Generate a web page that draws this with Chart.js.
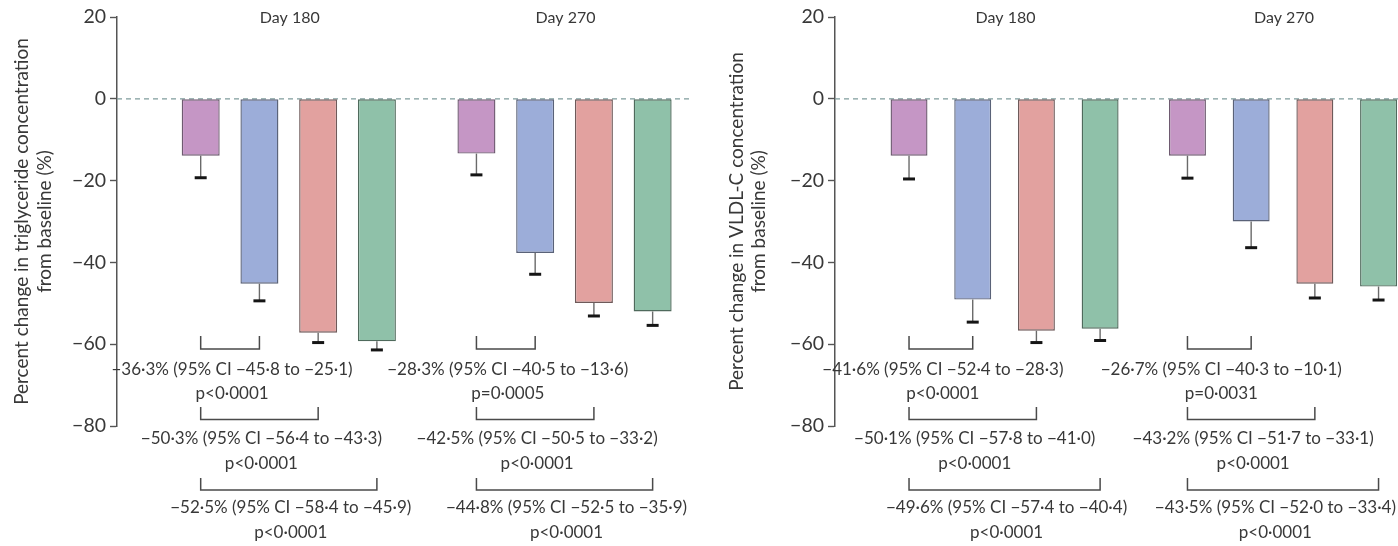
<!DOCTYPE html>
<html>
<head>
<meta charset="utf-8">
<script src="https://cdn.jsdelivr.net/npm/chart.js@4/dist/chart.umd.min.js"></script>
<style>
  html, body { margin: 0; padding: 0; background: #fff; }
  #wrap { position: relative; width: 1398px; height: 546px; overflow: hidden; }
  canvas { position: absolute; top: 0; }
  #tg { left: 0; }
  #vldl { left: 700px; }
</style>
</head>
<body>
<div id="wrap">
  <canvas id="tg" width="700" height="546"></canvas>
  <canvas id="vldl" width="698" height="546"></canvas>
</div>
<script>
// Visits and treatment arms
const categories = ['Day 180', 'Day 270'];
const arms = ['Placebo', 'Dose A', 'Dose B', 'Dose C'];
const yTickValues = [20, 0, -20, -40, -60, -80];

// Triglyceride: mean percent change and lower end of the error bar, per arm
const tgDay180 = [-13.9, -45.2, -57.2, -59.3];
const tgDay270 = [-13.4, -37.7, -49.9, -52.0];
const tgLow180 = [-19.3, -49.4, -59.6, -61.4];
const tgLow270 = [-18.6, -42.9, -53.1, -55.4];

// VLDL-C: mean percent change and lower end of the error bar, per arm
const vldlDay180 = [-13.9, -49.1, -56.7, -56.2];
const vldlDay270 = [-13.9, -30.0, -45.2, -45.9];
const vldlLow180 = [-19.6, -54.6, -59.6, -59.1];
const vldlLow270 = [-19.4, -36.4, -48.7, -49.2];

// Placebo-adjusted differences shown under each visit
const tgDiff180 = ['−36·3% (95% CI −45·8 to −25·1)', '−50·3% (95% CI −56·4 to −43·3)', '−52·5% (95% CI −58·4 to −45·9)'];
const tgP180 = ['p<0·0001', 'p<0·0001', 'p<0·0001'];
const tgDiff270 = ['−28·3% (95% CI −40·5 to −13·6)', '−42·5% (95% CI −50·5 to −33·2)', '−44·8% (95% CI −52·5 to −35·9)'];
const tgP270 = ['p=0·0005', 'p<0·0001', 'p<0·0001'];
const vldlDiff180 = ['−41·6% (95% CI −52·4 to −28·3)', '−50·1% (95% CI −57·8 to −41·0)', '−49·6% (95% CI −57·4 to −40·4)'];
const vldlP180 = ['p<0·0001', 'p<0·0001', 'p<0·0001'];
const vldlDiff270 = ['−26·7% (95% CI −40·3 to −10·1)', '−43·2% (95% CI −51·7 to −33·1)', '−43·5% (95% CI −52·0 to −33·4)'];
const vldlP270 = ['p=0·0031', 'p<0·0001', 'p<0·0001'];

const fillColors = ['#c596c5', '#9cadd9', '#e2a19f', '#8fc1a9'];
const edgeColors = ['#6e5a70', '#5a6278', '#6e5a5a', '#4f6a5c'];
const FONT = 'Lato, "Open Sans", sans-serif';
const TEXT = '#383838';

const fmt = v => (v < 0 ? '−' + Math.abs(v) : String(v));

// Draws zero reference line, error bars, visit labels and comparison brackets
const decorations = {
  id: 'decorations',
  beforeDatasetsDraw(chart) {
    const { ctx, chartArea, scales } = chart;
    const y0 = scales.y.getPixelForValue(0);
    ctx.save();
    ctx.strokeStyle = '#7f9c9c';
    ctx.lineWidth = 1.2;
    ctx.setLineDash([5, 4]);
    ctx.beginPath();
    ctx.moveTo(chartArea.left, y0);
    ctx.lineTo(chartArea.right, y0);
    ctx.stroke();
    ctx.restore();
  },
  afterDatasetsDraw(chart, args, opts) {
    const { ctx, scales } = chart;
    const yS = scales.y;
    ctx.save();
    categories.forEach((cat, ci) => {
      const bars = chart.data.datasets.map((ds, di) => chart.getDatasetMeta(di).data[ci]);
      // error bars
      bars.forEach((bar, di) => {
        const yLow = yS.getPixelForValue(opts.low[ci][di]);
        ctx.strokeStyle = '#6a6a6a';
        ctx.lineWidth = 1.4;
        ctx.beginPath();
        ctx.moveTo(bar.x, bar.y);
        ctx.lineTo(bar.x, yLow);
        ctx.stroke();
        ctx.strokeStyle = '#151515';
        ctx.lineWidth = 3;
        ctx.beginPath();
        ctx.moveTo(bar.x - 6, yLow);
        ctx.lineTo(bar.x + 6, yLow);
        ctx.stroke();
      });
      // visit label
      ctx.fillStyle = TEXT;
      ctx.font = '16px ' + FONT;
      ctx.textAlign = 'center';
      ctx.textBaseline = 'middle';
      ctx.fillText(cat, scales.x.getPixelForValue(ci) + 1, 18);
      // brackets against placebo
      for (let k = 1; k < bars.length; k++) {
        const row = k - 1;
        const top = 336 + row * 71;
        const base = 349 + row * 70.5;
        const x1 = bars[0].x, x2 = bars[k].x;
        ctx.strokeStyle = '#4a4a4a';
        ctx.lineWidth = 1.5;
        ctx.beginPath();
        ctx.moveTo(x1, top);
        ctx.lineTo(x1, base);
        ctx.lineTo(x2, base);
        ctx.lineTo(x2, top);
        ctx.stroke();
        ctx.fillStyle = TEXT;
        ctx.font = '17px ' + FONT;
        // keep each label inside the canvas
        const half = ctx.measureText(opts.diff[ci][row]).width / 2;
        const cx = Math.min((x1 + x2) / 2 + 2, chart.width - half - 2);
        ctx.fillText(opts.diff[ci][row], cx, 370 + row * 69);
        ctx.fillText(opts.p[ci][row], cx, 394 + row * 69.5);
      }
    });
    ctx.restore();
  }
};

function makePanel(id, title, values, lows, diffs, ps, axisWidth, xMin, xMax, padRight, titlePad) {
  const datasets = arms.map((arm, ai) => ({
    label: arm,
    data: categories.map((c, ci) => ({ x: ci, y: values[ci][ai] })),
    backgroundColor: fillColors[ai],
    borderColor: edgeColors[ai],
    borderWidth: 1.4,
    borderSkipped: false,
    categoryPercentage: id === 'tg' ? 0.852 : 0.915,
    barPercentage: id === 'tg' ? 0.647 : 0.58
  }));
  return new Chart(document.getElementById(id), {
    type: 'bar',
    data: { datasets },
    plugins: [decorations],
    options: {
      responsive: false,
      animation: false,
      devicePixelRatio: 1,
      layout: { padding: { top: 17, bottom: 120, left: 0, right: padRight } },
      plugins: {
        legend: { display: false },
        tooltip: { enabled: false },
        decorations: { low: lows, diff: diffs, p: ps }
      },
      scales: {
        x: {
          type: 'linear',
          display: true,
          offset: false,
          min: xMin,
          max: xMax,
          ticks: { display: false, stepSize: 1, includeBounds: false },
          grid: { display: false, drawTicks: false },
          border: { display: false }
        },
        y: {
          min: -80,
          max: 20,
          afterBuildTicks: s => { s.ticks = yTickValues.map(v => ({ value: v })); },
          afterFit: s => { s.width = axisWidth; },
          grid: { drawOnChartArea: false, drawTicks: true, tickLength: 7, color: '#555', tickWidth: 1.4 },
          border: { display: true, color: '#555', width: 1.5 },
          ticks: { color: TEXT, font: { family: FONT, size: 19.5 }, padding: 4, callback: v => fmt(v) },
          title: {
            display: true,
            text: title,
            color: TEXT,
            font: { family: FONT, size: 19 },
            padding: { top: titlePad, bottom: 0 }
          }
        }
      }
    }
  });
}

makePanel('tg', ['Percent change in triglyceride concentration', 'from baseline (%)'],
  [tgDay180, tgDay270], [tgLow180, tgLow270], [tgDiff180, tgDiff270], [tgP180, tgP270],
  117, -0.623, 1.455, 10, 10.5);
makePanel('vldl', ['Percent change in VLDL-C concentration', 'from baseline (%)'],
  [vldlDay180, vldlDay270], [vldlLow180, vldlLow270], [vldlDiff180, vldlDiff270], [vldlP180, vldlP270],
  135, -0.609, 1.413, 0, 25);
</script>
</body>
</html>
